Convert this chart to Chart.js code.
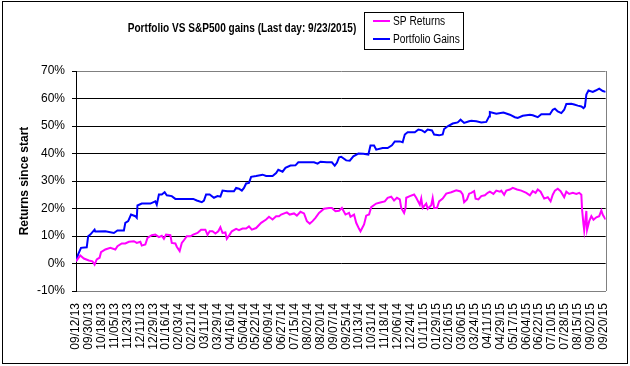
<!DOCTYPE html>
<html>
<head>
<meta charset="utf-8">
<script src="https://cdn.jsdelivr.net/npm/chart.js@4.4.0/dist/chart.umd.min.js"></script>
<style>
  html, body { margin: 0; padding: 0; background: #fff; }
  #wrap { width: 630px; height: 366px; }
</style>
</head>
<body>
<div id="wrap"><canvas id="myChart" width="630" height="366"></canvas></div>
<script>

var chartTitle = "Portfolio VS S&P500 gains (Last day: 9/23/2015)";
var yAxisTitle = "Returns since start";

// one label every 18 days, starting 09/12/13
var dateLabels = ["09/12/13", "09/30/13", "10/18/13", "11/05/13", "11/23/13", "12/11/13", "12/29/13",
  "01/16/14", "02/03/14", "02/21/14", "03/11/14", "03/29/14", "04/16/14", "05/04/14", "05/22/14",
  "06/09/14", "06/27/14", "07/15/14", "08/02/14", "08/20/14", "09/07/14", "09/25/14", "10/13/14",
  "10/31/14", "11/18/14", "12/06/14", "12/24/14", "01/11/15", "01/29/15", "02/16/15", "03/06/15",
  "03/24/15", "04/11/15", "04/29/15", "05/17/15", "06/04/15", "06/22/15", "07/10/15", "07/28/15",
  "08/15/15", "09/02/15", "09/20/15"];
var labelStep = 18;
var lastDay = 741; // 9/23/2015

// days since 09/12/13 and return in %
var spDays = [0, 6, 11, 18, 23, 26, 29, 33, 35, 41,
  48, 55, 58, 64, 69, 74, 81, 85, 90, 92,
  97, 100, 106, 111, 116, 120, 123, 126, 132, 134,
  139, 141, 145, 148, 150, 155, 160, 164, 170, 175,
  181, 184, 187, 191, 195, 199, 202, 205, 209, 211,
  215, 218, 224, 228, 233, 238, 242, 246, 252, 259,
  266, 270, 275, 280, 284, 287, 295, 299, 305, 309,
  314, 319, 323, 327, 331, 335, 340, 347, 354, 358,
  363, 368, 372, 377, 382, 384, 389, 392, 396, 398,
  403, 406, 410, 413, 420, 427, 432, 436, 441, 445,
  449, 453, 455, 459, 461, 462, 467, 473, 476, 481,
  483, 485, 490, 492, 497, 499, 501, 505, 508, 513,
  518, 525, 532, 538, 541, 543, 547, 550, 553, 557,
  559, 563, 567, 572, 576, 579, 584, 588, 593, 595,
  599, 602, 607, 611, 617, 623, 630, 635, 639, 643,
  646, 650, 655, 660, 664, 667, 670, 674, 678, 683,
  686, 690, 695, 700, 704, 707, 708, 710, 711, 714,
  715, 718, 721, 724, 728, 732, 735, 737, 741];
var spReturns = [0.8, 2.9, 1.8, 1.1, 0.8, -0.4, 1.5, 2.1, 4.1, 5.1,
  5.7, 5.1, 6.3, 7.3, 7.3, 7.9, 8.1, 7.5, 7.9, 6.5,
  6.9, 9.3, 10.3, 10.5, 9.6, 10.1, 9.0, 10.5, 10.3, 7.5,
  7.3, 6.1, 4.5, 7.5, 8.1, 9.9, 9.9, 10.5, 11.1, 12.3,
  12.3, 10.4, 11.7, 11.7, 10.9, 11.7, 13.2, 11.1, 11.3, 9.0,
  10.5, 11.7, 12.6, 12.1, 12.7, 12.7, 13.5, 12.3, 12.9, 14.8,
  16.0, 17.0, 16.0, 17.2, 17.2, 17.8, 18.6, 17.8, 18.2, 17.4,
  18.8, 18.2, 15.4, 14.5, 15.4, 16.6, 18.4, 19.9, 20.2, 20.2,
  19.0, 19.2, 20.2, 17.8, 18.4, 17.0, 17.8, 14.8, 12.6, 11.7,
  14.2, 17.4, 17.8, 20.5, 21.8, 22.3, 22.6, 23.9, 24.3, 22.9,
  23.9, 23.3, 20.2, 18.4, 20.2, 23.9, 24.5, 25.1, 23.9, 21.4,
  23.6, 20.2, 21.8, 19.9, 21.2, 23.8, 20.2, 20.2, 22.6, 23.6,
  25.4, 25.9, 26.6, 26.2, 25.1, 22.3, 23.3, 25.4, 25.7, 26.3,
  23.6, 23.3, 24.5, 24.8, 25.7, 26.1, 25.3, 26.5, 26.1, 26.5,
  25.0, 26.5, 26.9, 27.5, 26.9, 26.5, 25.7, 24.8, 26.3, 25.7,
  26.9, 26.1, 23.6, 24.1, 22.6, 25.0, 26.5, 27.2, 26.3, 24.1,
  26.1, 25.3, 25.7, 25.3, 25.7, 25.0, 19.6, 14.2, 12.0, 19.1,
  12.3, 15.4, 17.2, 15.9, 16.8, 17.2, 19.3, 17.7, 16.0];

var portfolioDays = [0, 3, 7, 15, 17, 20, 26, 27, 41, 53,
  58, 67, 69, 73, 77, 83, 85, 86, 92, 104,
  111, 113, 116, 120, 124, 127, 134, 139, 164, 169,
  176, 179, 182, 187, 193, 198, 202, 205, 212, 221,
  224, 228, 232, 235, 238, 242, 245, 252, 261, 266,
  275, 280, 283, 289, 293, 300, 307, 311, 319, 333,
  338, 342, 351, 358, 362, 365, 368, 371, 378, 383,
  388, 395, 402, 409, 412, 417, 420, 429, 436, 442,
  446, 453, 457, 460, 464, 474, 479, 484, 488, 492,
  498, 501, 508, 513, 515, 520, 527, 534, 538, 543,
  550, 553, 560, 567, 574, 578, 579, 588, 598, 607,
  614, 618, 625, 635, 639, 646, 651, 663, 667, 670,
  674, 679, 683, 686, 693, 697, 702, 707, 710, 712,
  714, 717, 723, 727, 732, 737, 741];
var portfolioGains = [0.8, 3.3, 5.7, 5.9, 9.9, 10.5, 12.3, 11.6, 11.7, 11.1,
  12.0, 12.0, 14.8, 15.4, 17.8, 17.2, 16.6, 21.1, 21.8, 21.8,
  22.6, 21.4, 25.1, 25.1, 25.9, 24.8, 24.5, 23.5, 23.5, 22.9,
  22.3, 22.9, 25.1, 25.1, 23.9, 24.5, 24.3, 26.5, 26.3, 26.3,
  27.5, 27.2, 26.5, 27.5, 29.1, 29.3, 31.5, 31.8, 32.3, 31.8,
  31.8, 32.9, 34.1, 33.4, 34.8, 35.6, 35.7, 36.8, 36.8, 36.8,
  36.3, 37.0, 36.8, 36.8, 35.6, 36.6, 38.6, 38.8, 37.5, 37.4,
  39.0, 40.0, 39.9, 39.6, 42.9, 42.9, 41.4, 42.0, 42.0, 43.0,
  44.4, 44.4, 44.1, 46.9, 47.7, 47.7, 48.7, 48.4, 47.7, 48.7,
  48.4, 46.9, 46.6, 46.9, 48.9, 49.9, 50.9, 51.3, 52.3, 51.1,
  51.7, 51.9, 51.7, 51.3, 51.5, 53.5, 55.1, 54.5, 54.9, 54.1,
  53.2, 52.9, 53.7, 54.1, 53.9, 53.2, 54.3, 54.3, 55.9, 56.3,
  55.3, 54.7, 55.9, 58.0, 58.1, 57.8, 57.4, 57.1, 56.5, 57.1,
  61.4, 62.9, 62.4, 62.9, 63.6, 62.7, 62.4];

function toPoints(days, vals) {
  return days.map(function(d, i) { return { x: d, y: vals[i] }; });
}

var fontFamily = "Arial, 'Liberation Sans', sans-serif";

// text squeezed horizontally, like the narrow Excel chart fonts
function narrowText(ctx, text, x, y, sx) {
  ctx.save();
  ctx.translate(x, y);
  ctx.scale(sx, 1);
  ctx.fillText(text, 0, 0);
  ctx.restore();
}

// white background, outer frame, plot border, title and legend box
var excelLook = {
  id: 'excelLook',
  beforeDraw: function(chart) {
    var ctx = chart.ctx;
    ctx.save();
    ctx.fillStyle = '#fff';
    ctx.fillRect(0, 0, chart.width, chart.height);
    ctx.strokeStyle = '#000';
    ctx.lineWidth = 1;
    ctx.strokeRect(2.5, 1.5, 625, 362);
    ctx.restore();
  },
  beforeDatasetsDraw: function(chart) {
    var a = chart.chartArea, ctx = chart.ctx;
    var xr = Math.round(a.right) + 0.5;
    ctx.save();
    ctx.strokeStyle = '#808080';
    ctx.lineWidth = 1;
    ctx.beginPath();
    ctx.moveTo(xr, a.top);
    ctx.lineTo(xr, a.bottom);
    ctx.stroke();
    ctx.restore();
  },
  afterDraw: function(chart) {
    var ctx = chart.ctx;
    ctx.save();
    ctx.fillStyle = '#000';
    ctx.font = "bold 12px " + fontFamily;
    ctx.textAlign = 'center';
    ctx.textBaseline = 'middle';
    narrowText(ctx, chartTitle, 242, 29, 0.84);

    // legend
    ctx.strokeStyle = '#000';
    ctx.lineWidth = 1;
    ctx.strokeRect(364.5, 12.5, 99, 37);
    ctx.font = "12px " + fontFamily;
    ctx.textAlign = 'left';
    var rows = [21, 39];
    chart.data.datasets.forEach(function(ds, i) {
      ctx.strokeStyle = ds.borderColor;
      ctx.lineWidth = 2;
      ctx.beginPath();
      ctx.moveTo(373, rows[i]);
      ctx.lineTo(390, rows[i]);
      ctx.stroke();
      ctx.fillStyle = '#000';
      narrowText(ctx, ds.label, 393, rows[i] + 1, 0.85);
    });
    ctx.restore();
  }
};

document.addEventListener("DOMContentLoaded", function()
{
  var canvas = document.getElementById("myChart");

  new Chart(canvas, {
    type: 'line',
    data: {
      datasets: [{
        label: 'SP Returns',
        data: toPoints(spDays, spReturns),
        borderColor: '#FF00FF',
        borderWidth: 2,
        pointRadius: 0,
        tension: 0
      }, {
        label: 'Portfolio Gains',
        data: toPoints(portfolioDays, portfolioGains),
        borderColor: '#0000FF',
        borderWidth: 2,
        pointRadius: 0,
        tension: 0
      }]
    },
    options: {
      responsive: false,
      animation: false,
      devicePixelRatio: 1,
      layout: { padding: { top: 71, right: 22, bottom: 10, left: 0 } },
      plugins: {
        legend: { display: false },
        title: { display: false },
        tooltip: { enabled: false }
      },
      scales: {
        x: {
          type: 'linear',
          min: 0,
          max: lastDay,
          grid: { display: false, drawTicks: false },
          border: { display: true, color: '#808080', width: 1 },
          ticks: {
            stepSize: labelStep,
            autoSkip: false,
            includeBounds: false,
            maxRotation: 90,
            minRotation: 90,
            padding: 12,
            color: '#000',
            font: { family: fontFamily, size: 12 },
            callback: function(value) {
              var i = value / labelStep;
              return Number.isInteger(i) && dateLabels[i] ? dateLabels[i] : '';
            }
          },
          afterFit: function(scale) { scale.height = 65; }
        },
        y: {
          min: -10,
          max: 70,
          grid: {
            color: function(c) {
              return (c.tick && (c.tick.value === 70 || c.tick.value === -10)) ? '#808080' : '#000';
            },
            tickColor: '#000',
            tickLength: 4,
            lineWidth: 1
          },
          border: { display: true, color: '#000', width: 1 },
          ticks: {
            stepSize: 10,
            padding: 7,
            color: '#000',
            font: { family: fontFamily, size: 12 },
            callback: function(value) { return value + '%'; }
          },
          title: {
            display: true,
            text: yAxisTitle,
            color: '#000',
            font: { family: fontFamily, size: 12, weight: 'bold' },
            padding: { top: 17, bottom: 0 }
          },
          afterFit: function(scale) { scale.width = 76; }
        }
      }
    },
    plugins: [excelLook]
  });
});
</script>
</body>
</html>
